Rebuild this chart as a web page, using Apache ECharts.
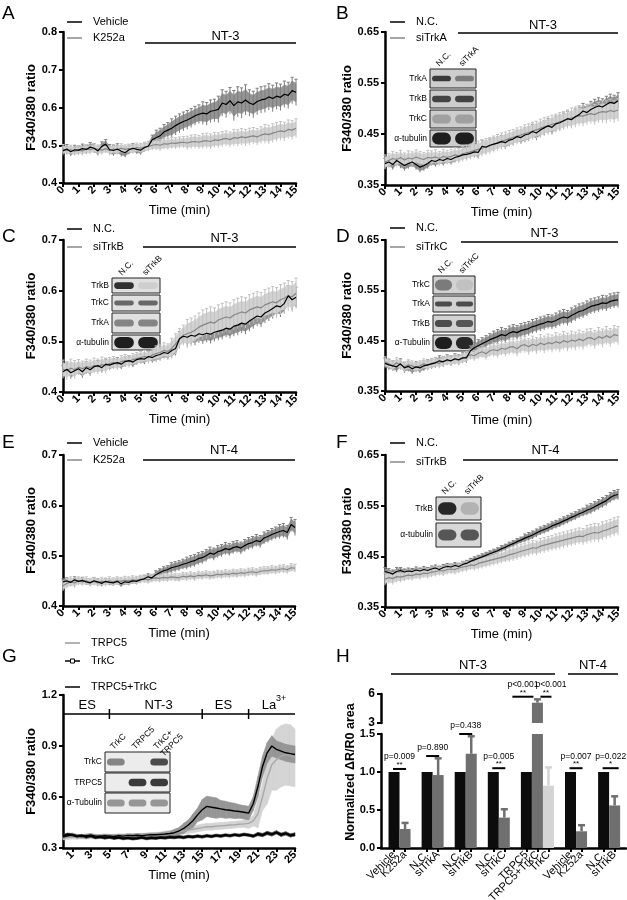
<!DOCTYPE html>
<html><head><meta charset="utf-8">
<script src="https://cdn.jsdelivr.net/npm/echarts@6/dist/echarts.min.js"></script>
<style>html,body{margin:0;padding:0;background:#fff}#c{width:627px;height:900px}</style>
</head><body><div id="c"></div>
<script>
// ================= DATA =================
// time sampling (min)
const stepAF = 0.25;
const stepG = 0.5;
const xTicks15 = [0,1,2,3,4,5,6,7,8,9,10,11,12,13,14,15];
const xTicksG = [1,3,5,7,9,11,13,15,17,19,21,23,25];
const yTicksA = [0.4,0.5,0.6,0.7,0.8];
const yTicksB = [0.35,0.45,0.55,0.65];
const yTicksC = [0.4,0.5,0.6,0.7];
const yTicksD = [0.35,0.45,0.55,0.65];
const yTicksE = [0.4,0.5,0.6,0.7];
const yTicksF = [0.35,0.45,0.55,0.65];
const yTicksG = [0.3,0.6,0.9,1.2];
const yTicksHlow = [0,0.5,1.0,1.5];
const yTicksHup = [3,6];

// Panel A (NT-3): Vehicle vs K252a
const A_vehicle = [0.485,
 0.490,0.483,0.488,0.487, 0.491,0.489,0.495,0.492, 0.485,0.497,0.503,0.488, 0.486,0.490,0.484,0.480,
 0.488,0.492,0.489,0.487, 0.494,0.498,0.515,0.520, 0.525,0.535,0.540,0.545, 0.552,0.558,0.563,0.567,
 0.572,0.578,0.582,0.585, 0.583,0.590,0.592,0.595, 0.612,0.608,0.618,0.605, 0.615,0.612,0.620,0.612,
 0.608,0.616,0.620,0.622, 0.628,0.624,0.630,0.627, 0.635,0.632,0.645,0.640];
const A_vehicle_sd = [0.012,0.012,0.012,0.014,0.012,0.012,0.02,0.025,0.025,0.03,0.035,0.04,0.035,0.035,0.035,0.035];
const A_k252a = [0.490,
 0.486,0.488,0.484,0.487, 0.485,0.490,0.488,0.492, 0.489,0.487,0.491,0.486, 0.490,0.488,0.492,0.489,
 0.491,0.490,0.494,0.492, 0.495,0.497,0.500,0.502, 0.500,0.504,0.503,0.506, 0.505,0.507,0.508,0.506,
 0.509,0.510,0.508,0.511, 0.512,0.510,0.514,0.513, 0.516,0.518,0.515,0.520, 0.519,0.522,0.520,0.523,
 0.525,0.522,0.527,0.530, 0.528,0.532,0.535,0.538, 0.536,0.542,0.540,0.545];
const A_k252a_sd = [0.012,0.012,0.012,0.012,0.012,0.013,0.015,0.015,0.018,0.02,0.02,0.022,0.022,0.025,0.025,0.025];

// Panel B (NT-3): N.C. vs siTrkA
const B_nc = [0.392,
 0.395,0.390,0.398,0.393, 0.388,0.392,0.395,0.390, 0.385,0.388,0.392,0.398, 0.396,0.400,0.398,0.402,
 0.400,0.404,0.406,0.409, 0.410,0.412,0.415,0.414, 0.426,0.424,0.428,0.430, 0.432,0.435,0.433,0.438,
 0.440,0.445,0.443,0.448, 0.450,0.455,0.452,0.458, 0.462,0.466,0.463,0.470, 0.472,0.476,0.480,0.478,
 0.484,0.488,0.495,0.492, 0.498,0.502,0.505,0.503, 0.508,0.512,0.510,0.515];
const B_nc_sd = [0.01,0.01,0.01,0.01,0.01,0.01,0.012,0.012,0.012,0.014,0.014,0.015,0.015,0.016,0.016,0.016];
const B_sitrka = [0.395,
 0.398,0.402,0.400,0.404, 0.399,0.403,0.401,0.405, 0.402,0.400,0.404,0.403, 0.405,0.402,0.406,0.404,
 0.406,0.409,0.407,0.411, 0.413,0.415,0.418,0.420, 0.422,0.425,0.427,0.430, 0.433,0.436,0.438,0.441,
 0.443,0.446,0.448,0.451, 0.453,0.456,0.458,0.461, 0.464,0.466,0.469,0.471, 0.474,0.476,0.479,0.481,
 0.483,0.486,0.485,0.488, 0.490,0.488,0.492,0.494, 0.493,0.496,0.494,0.497];
const B_sitrka_sd = [0.014,0.014,0.014,0.014,0.014,0.015,0.016,0.016,0.016,0.017,0.018,0.018,0.02,0.02,0.022,0.022];

// Panel C (NT-3): N.C. vs siTrkB
const C_nc = [0.440,
 0.445,0.438,0.442,0.446, 0.440,0.448,0.444,0.450, 0.452,0.448,0.455,0.453, 0.456,0.458,0.455,0.460,
 0.462,0.459,0.464,0.466, 0.465,0.470,0.468,0.472, 0.474,0.478,0.476,0.482, 0.486,0.505,0.510,0.508,
 0.512,0.510,0.515,0.513, 0.516,0.514,0.518,0.520, 0.522,0.526,0.524,0.530, 0.532,0.536,0.534,0.540,
 0.545,0.550,0.548,0.556, 0.560,0.565,0.570,0.568, 0.575,0.590,0.582,0.587];
const C_nc_sd = [0.012,0.012,0.01,0.01,0.01,0.01,0.012,0.014,0.018,0.018,0.018,0.02,0.02,0.02,0.02,0.02];
const C_sitrkb = [0.445,
 0.442,0.447,0.444,0.449, 0.446,0.450,0.448,0.452, 0.450,0.454,0.452,0.456, 0.458,0.455,0.460,0.462,
 0.460,0.464,0.466,0.468, 0.470,0.468,0.473,0.476, 0.478,0.482,0.480,0.486, 0.495,0.505,0.512,0.515,
 0.518,0.522,0.528,0.532, 0.535,0.538,0.536,0.542, 0.545,0.548,0.546,0.552, 0.555,0.558,0.556,0.562,
 0.565,0.568,0.566,0.572, 0.575,0.578,0.576,0.582, 0.585,0.590,0.588,0.595];
const C_sitrkb_sd = [0.018,0.015,0.015,0.012,0.012,0.012,0.015,0.02,0.028,0.03,0.03,0.03,0.03,0.03,0.03,0.03];

// Panel D (NT-3): N.C. vs siTrkC
const D_nc = [0.405,
 0.402,0.400,0.398,0.404, 0.396,0.399,0.394,0.398, 0.396,0.400,0.402,0.404, 0.406,0.410,0.408,0.412,
 0.410,0.414,0.412,0.416, 0.416,0.430,0.436,0.440, 0.444,0.448,0.452,0.455, 0.458,0.462,0.460,0.465,
 0.468,0.466,0.470,0.472, 0.474,0.478,0.480,0.483, 0.485,0.488,0.487,0.490, 0.494,0.497,0.495,0.500,
 0.504,0.508,0.510,0.514, 0.518,0.520,0.522,0.525, 0.524,0.528,0.530,0.531];
const D_nc_sd = [0.01,0.01,0.01,0.01,0.01,0.01,0.012,0.014,0.014,0.014,0.014,0.015,0.015,0.015,0.015,0.015];
const D_sitrkc = [0.408,
 0.404,0.400,0.406,0.402, 0.398,0.402,0.400,0.397, 0.400,0.404,0.401,0.405, 0.407,0.405,0.409,0.411,
 0.410,0.413,0.411,0.415, 0.418,0.422,0.420,0.425, 0.428,0.424,0.430,0.432, 0.430,0.435,0.433,0.437,
 0.438,0.434,0.440,0.442, 0.438,0.443,0.440,0.445, 0.442,0.446,0.444,0.448, 0.445,0.450,0.447,0.451,
 0.449,0.453,0.450,0.455, 0.456,0.452,0.458,0.455, 0.460,0.456,0.462,0.460];
const D_sitrkc_sd = [0.01,0.01,0.01,0.01,0.01,0.01,0.012,0.014,0.015,0.016,0.017,0.018,0.018,0.018,0.018,0.018];

// Panel E (NT-4): Vehicle vs K252a
const E_vehicle = [0.448,
 0.450,0.447,0.452,0.449, 0.451,0.448,0.446,0.450, 0.448,0.445,0.449,0.447, 0.446,0.449,0.444,0.448,
 0.447,0.450,0.449,0.452, 0.454,0.458,0.456,0.462, 0.466,0.470,0.472,0.476, 0.478,0.480,0.483,0.485,
 0.488,0.490,0.494,0.496, 0.500,0.505,0.503,0.508, 0.510,0.514,0.512,0.516, 0.518,0.515,0.520,0.524,
 0.526,0.530,0.528,0.535, 0.538,0.542,0.545,0.548, 0.550,0.546,0.562,0.556];
const E_vehicle_sd = [0.006,0.006,0.006,0.006,0.006,0.006,0.008,0.01,0.012,0.012,0.012,0.012,0.012,0.012,0.014,0.016];
const E_k252a = [0.440,
 0.445,0.448,0.446,0.450, 0.448,0.450,0.447,0.449, 0.446,0.449,0.447,0.450, 0.448,0.450,0.449,0.451,
 0.450,0.452,0.451,0.453, 0.454,0.452,0.455,0.456, 0.455,0.457,0.456,0.458, 0.457,0.456,0.459,0.458,
 0.460,0.458,0.461,0.460, 0.462,0.460,0.461,0.463, 0.462,0.464,0.463,0.465, 0.464,0.466,0.465,0.467,
 0.468,0.466,0.469,0.470, 0.470,0.472,0.471,0.473, 0.474,0.472,0.476,0.475];
const E_k252a_sd = [0.01,0.008,0.008,0.008,0.008,0.008,0.008,0.008,0.008,0.008,0.008,0.008,0.008,0.008,0.008,0.008];

// Panel F (NT-4): N.C. vs siTrkB
const F_nc = [0.420,
 0.418,0.415,0.420,0.422, 0.419,0.421,0.420,0.423, 0.421,0.424,0.422,0.425, 0.427,0.424,0.428,0.430,
 0.429,0.432,0.430,0.434, 0.436,0.440,0.443,0.446, 0.449,0.452,0.455,0.458, 0.461,0.465,0.468,0.472,
 0.475,0.479,0.482,0.486, 0.489,0.492,0.496,0.500, 0.503,0.506,0.510,0.513, 0.516,0.520,0.523,0.527,
 0.530,0.534,0.537,0.541, 0.544,0.548,0.552,0.556, 0.560,0.566,0.570,0.572];
const F_nc_sd = [0.008,0.006,0.006,0.006,0.006,0.006,0.006,0.006,0.006,0.008,0.008,0.008,0.008,0.01,0.01,0.01];
const F_sitrkb = [0.405,
 0.408,0.406,0.410,0.409, 0.411,0.413,0.412,0.415, 0.414,0.417,0.416,0.419, 0.420,0.422,0.421,0.424,
 0.425,0.424,0.427,0.429, 0.430,0.433,0.432,0.436, 0.438,0.440,0.442,0.444, 0.446,0.448,0.450,0.453,
 0.455,0.457,0.460,0.462, 0.464,0.467,0.466,0.470, 0.472,0.474,0.476,0.478, 0.480,0.482,0.484,0.486,
 0.488,0.490,0.489,0.493, 0.495,0.497,0.496,0.500, 0.502,0.505,0.508,0.510];
const F_sitrkb_sd = [0.012,0.01,0.01,0.01,0.01,0.01,0.012,0.012,0.014,0.014,0.015,0.016,0.016,0.018,0.018,0.018];

// Panel G (0.5-min samples, 0..25 min)
const G_trpc5 = [
 0.360,0.362,0.365,0.363,0.366,0.364,0.367,0.365,0.366,0.368,0.367,0.369,0.368,0.370,0.371,0.372,0.373,0.375,0.376,0.378,0.380,
 0.382,0.385,0.388,0.392,0.396,0.400,0.405,0.410,0.415,0.420,0.425,0.425,0.428,0.430,0.432,0.435,0.437,0.440,0.442,0.445,
 0.460,0.500,0.600,0.710,0.790,0.820,0.840,0.850,0.845,0.830];
const G_trpc5_sd = [0.012,0.012,0.012,0.012,0.012,0.012,0.012,0.012,0.012,0.012,0.012,0.015,0.015,0.018,0.02,0.02,0.02,0.02,0.02,0.02,0.03,0.08,0.15,0.18,0.18,0.17];
const G_trkc = [
 0.372,0.380,0.376,0.368,0.372,0.365,0.370,0.362,0.366,0.360,0.364,0.358,0.362,0.356,0.360,0.355,0.358,0.362,0.356,0.360,0.358,
 0.362,0.360,0.364,0.362,0.366,0.362,0.368,0.365,0.370,0.366,0.372,0.368,0.374,0.370,0.376,0.372,0.378,0.374,0.380,0.376,
 0.370,0.382,0.376,0.388,0.380,0.392,0.378,0.386,0.374,0.380];
const G_trkc_sd = [0.008,0.008,0.008,0.008,0.008,0.008,0.008,0.008,0.008,0.008,0.008,0.008,0.008,0.008,0.008,0.008,0.008,0.008,0.008,0.008,0.008,0.01,0.01,0.01,0.01,0.01];
const G_trpc5trkc = [
 0.365,0.372,0.378,0.370,0.368,0.372,0.375,0.370,0.368,0.372,0.370,0.368,0.372,0.370,0.374,0.372,0.375,0.373,0.376,0.378,0.378,
 0.380,0.382,0.385,0.390,0.400,0.415,0.435,0.460,0.495,0.525,0.545,0.540,0.535,0.530,0.525,0.522,0.518,0.515,0.510,0.505,
 0.560,0.660,0.780,0.860,0.900,0.880,0.870,0.860,0.855,0.850];
const G_trpc5trkc_sd = [0.01,0.01,0.01,0.01,0.01,0.01,0.01,0.01,0.01,0.01,0.01,0.012,0.02,0.03,0.04,0.06,0.06,0.05,0.045,0.04,0.04,0.06,0.06,0.05,0.05,0.05];

// Panel H: normalized ΔR/R0 area ('' = gap between groups)
const H_labels = ['Vehicle','K252a','','N.C.','siTrkA','','N.C.','siTrkB','','N.C.','siTrkC','','TRPC5','TRPC5+TrkC','TrkC','','Vehicle','K252a','','N.C.','siTrkB'];
const H_values = [1.0,0.25, 1.0,0.96, 1.0,1.24, 1.0,0.40, 1.0,5.10,0.82, 1.0,0.22, 1.0,0.56];
const H_errors = [0,0.08, 0,0.22, 0,0.23, 0,0.11, 0,0.35,0.24, 0,0.08, 0,0.12];
const H_pvalues = ['p=0.009','p=0.890','p=0.438','p=0.005','p<0.001','p<0.001','p=0.007','p=0.022'];
const H_stars = ['**','','','**','**','**','**','*'];

// ================= STYLE / LAYOUT =================
const FONT = '"Liberation Sans", Arial, Helvetica, sans-serif';
const chart = echarts.init(document.getElementById('c'), null, {renderer:'canvas', width:627, height:900});

const grids = [
  {left:63, top:32, width:233, height:151},
  {left:385, top:32, width:233, height:153},
  {left:63, top:240, width:233, height:152},
  {left:385, top:240, width:233, height:151},
  {left:63, top:455, width:232, height:151},
  {left:385, top:455, width:233, height:152},
  {left:63, top:695, width:232, height:153},
  {left:381, top:734, width:245, height:114},
  {left:381, top:694, width:245, height:29}
].map(g => Object.assign({outerBoundsMode:'none', containLabel:false, show:false}, g));

function yAx(gi, lo, hi, ticks, dec, gap, name) {
  return {gridIndex:gi, type:'value', min:lo, max:hi, scale:false,
    axisLine:{show:true, onZero:false, lineStyle:{color:'#000', width:2.5}},
    axisTick:{show:true, length:4, inside:false, lineStyle:{color:'#000', width:2}, customValues:ticks},
    axisLabel:{customValues:ticks, formatter:v => Number(v).toFixed(dec), color:'#000', fontWeight:'bold', fontSize:11, fontFamily:FONT, margin:6, showMinLabel:true, showMaxLabel:true},
    splitLine:{show:false},
    name:name || '', nameLocation:'middle', nameGap:gap,
    nameTextStyle:{color:'#000', fontWeight:'bold', fontSize:13, fontFamily:FONT}};
}
function xAx(gi, hi, ticks, gap) {
  return {gridIndex:gi, type:'value', min:0, max:hi, interval:1,
    axisLine:{show:true, onZero:false, lineStyle:{color:'#000', width:2.5}},
    axisTick:{show:true, length:4, lineStyle:{color:'#000', width:2}, customValues:ticks},
    axisLabel:{customValues:ticks, rotate:45, color:'#000', fontWeight:'bold', fontSize:11, fontFamily:FONT, margin:5, showMinLabel:true, showMaxLabel:true, hideOverlap:false, formatter:v => String(v)},
    splitLine:{show:false},
    name:'Time (min)', nameLocation:'middle', nameGap:gap,
    nameTextStyle:{color:'#000', fontSize:13, fontFamily:FONT}};
}

const xAxes = [
  xAx(0, 15, xTicks15, 20), xAx(1, 15, xTicks15, 15), xAx(2, 15, xTicks15, 20),
  xAx(3, 15, xTicks15, 23), xAx(4, 15, xTicks15, 18), xAx(5, 15, xTicks15, 13),
  xAx(6, 25, xTicksG, 19)
];
const yAxes = [
  yAx(0, 0.4, 0.8, yTicksA, 1, 21, 'F340/380 ratio'),
  yAx(1, 0.35, 0.65, yTicksB, 2, 29, 'F340/380 ratio'),
  yAx(2, 0.4, 0.7, yTicksC, 1, 21, 'F340/380 ratio'),
  yAx(3, 0.35, 0.65, yTicksD, 2, 29, 'F340/380 ratio'),
  yAx(4, 0.4, 0.7, yTicksE, 1, 21, 'F340/380 ratio'),
  yAx(5, 0.35, 0.65, yTicksF, 2, 29, 'F340/380 ratio'),
  yAx(6, 0.3, 1.2, yTicksG, 1, 21, 'F340/380 ratio')
];

// H axes
const barPos = [];
H_labels.forEach((c, i) => { if (c !== '') barPos.push(i); });
const hMin = -1.18, hMax = 21.03;
// empty sentinel labels at the axis ends so that no real label is dropped by min/max overlap logic
const hLabelVals = [hMin].concat(barPos, [hMax]);
xAxes.push({gridIndex:7, type:'value', min:hMin, max:hMax,
  axisLine:{show:true, onZero:false, lineStyle:{color:'#000', width:2.5}},
  axisTick:{show:true, length:4, lineStyle:{color:'#000', width:2}, customValues:barPos},
  axisLabel:{customValues:hLabelVals, rotate:45, color:'#000', fontSize:11, fontFamily:FONT, margin:5, showMinLabel:false, showMaxLabel:false, hideOverlap:false,
    formatter:v => (Math.abs(v - Math.round(v)) < 1e-6 ? (H_labels[Math.round(v)] || '') : '')},
  splitLine:{show:false}});
xAxes.push({gridIndex:8, type:'value', min:hMin, max:hMax, show:false, splitLine:{show:false}});
yAxes.push(yAx(7, 0, 1.5, yTicksHlow, 1, 0, ''));
yAxes.push(yAx(8, 3, 6, yTicksHup, 0, 0, ''));
yAxes[8].axisLabel.fontSize = 12;

const series = [];
function bandSeries(gi, vals, sds, step, fill, whisk, factor, z) {
  const data = vals.map((v, i) => { const t = i * step; return [t, v, sds[Math.min(Math.floor(t + 1e-6), sds.length - 1)]]; });
  return {type:'custom', xAxisIndex:gi, yAxisIndex:gi, z, silent:true, animation:false,
    encode:{x:0, y:1}, data,
    renderItem(params, api) {
      const i = params.dataIndex, d = data[i], ch = [];
      if (i < data.length - 1) {
        const n = data[i + 1];
        const a = api.coord([d[0], d[1] + d[2] * factor]), b = api.coord([n[0], n[1] + n[2] * factor]);
        const c = api.coord([n[0], n[1] - n[2] * factor]), e = api.coord([d[0], d[1] - d[2] * factor]);
        ch.push({type:'polygon', shape:{points:[a, b, c, e]}, style:{fill, stroke:fill, lineWidth:0.6}});
      }
      if (whisk) {
        const tp = api.coord([d[0], d[1] + d[2]]), bt = api.coord([d[0], d[1] - d[2]]);
        ch.push({type:'line', shape:{x1:tp[0], y1:tp[1], x2:bt[0], y2:bt[1]}, style:{stroke:whisk, lineWidth:1}});
        ch.push({type:'line', shape:{x1:tp[0]-1.6, y1:tp[1], x2:tp[0]+1.6, y2:tp[1]}, style:{stroke:whisk, lineWidth:1}});
      }
      return {type:'group', children:ch};
    }};
}
function lineSeries(gi, vals, step, color, width, z) {
  return {type:'line', xAxisIndex:gi, yAxisIndex:gi, z, silent:true, animation:false,
    data: vals.map((v, i) => [i * step, v]),
    showSymbol:false, symbol:'none',
    lineStyle:{color, width}};
}
function addPair(gi, s1, s1sd, s2, s2sd) {
  series.push(bandSeries(gi, s1, s1sd, stepAF, '#959595', '#7d7d7d', 0.7, 1));
  series.push(bandSeries(gi, s2, s2sd, stepAF, '#d2d2d2', '#c2c2c2', 0.7, 2));
  series.push(lineSeries(gi, s2, stepAF, '#858585', 1.2, 3));
  series.push(lineSeries(gi, s1, stepAF, '#000', 1.2, 4));
}
addPair(0, A_vehicle, A_vehicle_sd, A_k252a, A_k252a_sd);
addPair(1, B_nc, B_nc_sd, B_sitrka, B_sitrka_sd);
addPair(2, C_nc, C_nc_sd, C_sitrkb, C_sitrkb_sd);
addPair(3, D_nc, D_nc_sd, D_sitrkc, D_sitrkc_sd);
addPair(4, E_vehicle, E_vehicle_sd, E_k252a, E_k252a_sd);
addPair(5, F_nc, F_nc_sd, F_sitrkb, F_sitrkb_sd);
// G
series.push(bandSeries(6, G_trpc5, G_trpc5_sd, stepG, '#d4d4d4', null, 1, 1));
series.push(bandSeries(6, G_trpc5trkc, G_trpc5trkc_sd, stepG, '#969696', null, 1, 2));
series.push(bandSeries(6, G_trkc, G_trkc_sd, stepG, '#3a3a3a', null, 1, 2));
series.push(lineSeries(6, G_trpc5, stepG, '#a8a8a8', 1.4, 3));
series.push(lineSeries(6, G_trkc, stepG, '#000', 2, 4));
series.push(lineSeries(6, G_trpc5trkc, stepG, '#000', 1.4, 5));

// H bars
const TONE = {k:'#0c0c0c', g:'#6f6f6f', l:'#d4d4d4'};
const H_tone = ['k','g','k','g','k','g','k','g','k','g','l','k','g','k','g'];
const barData = H_values.map((v, i) => ({value:[barPos[i], v], itemStyle:{color:TONE[H_tone[i]]}}));
series.push({type:'bar', xAxisIndex:7, yAxisIndex:7, data:barData, barWidth:11, clip:true, silent:true, animation:false});
series.push({type:'bar', xAxisIndex:8, yAxisIndex:8, data:barData, barWidth:11, clip:true, silent:true, animation:false});
function errSeries(gi, lo, hi) {
  return {type:'custom', xAxisIndex:gi, yAxisIndex:gi, z:5, silent:true, animation:false,
    encode:{x:0, y:1}, data:H_values.map((v, i) => [barPos[i], v]),
    renderItem(params, api) {
      const i = params.dataIndex, v = H_values[i], e = H_errors[i];
      if (e <= 0 || v > hi || v + e < lo) return null;
      const p0 = api.coord([barPos[i], Math.max(v, lo)]), p1 = api.coord([barPos[i], v + e]);
      const col = TONE[H_tone[i]];
      return {type:'group', children:[
        {type:'line', shape:{x1:p0[0], y1:p0[1], x2:p1[0], y2:p1[1]}, style:{stroke:col, lineWidth:2.5}},
        {type:'line', shape:{x1:p1[0]-3.5, y1:p1[1], x2:p1[0]+3.5, y2:p1[1]}, style:{stroke:col, lineWidth:2.5}}]};
    }};
}
series.push(errSeries(7, 0, 1.5));
series.push(errSeries(8, 3, 6));

chart.setOption({animation:false, backgroundColor:'#fff', grid:grids, xAxis:xAxes, yAxis:yAxes, series});

// ================= DECORATIONS =================
const G = [];
function txt(x, y, text, size, opts) {
  return Object.assign({type:'text', x, y, silent:true, style:Object.assign({text, fill:'#000', font:`${size}px ${FONT}`, align:'left', verticalAlign:'middle'}, (opts && opts.style) || {})}, (opts && opts.el) || {});
}
function hline(x1, x2, y, w, col) {
  return {type:'line', silent:true, shape:{x1, y1:y, x2, y2:y}, style:{stroke:col || '#000', lineWidth:w || 1.5}};
}
// panel letters
[['A',2,4],['B',336,4],['C',2,227],['D',336,227],['E',2,433],['F',336,433],['G',2,647],['H',336,647]].forEach(l => {
  G.push(txt(l[1], l[2], l[0], 19, {style:{verticalAlign:'top'}}));
});
// legends
function legend(x, y, text, col, sq) {
  G.push(hline(x, x + 15, y, 1.5, col));
  if (sq) G.push({type:'rect', silent:true, shape:{x:x + 5.5, y:y - 2, width:4, height:4}, style:{fill:'#fff', stroke:'#000', lineWidth:1}});
  G.push(txt(x + 26, y, text, 11));
}
legend(67, 22, 'Vehicle', '#000'); legend(67, 38, 'K252a', '#888');
legend(390, 22, 'N.C.', '#000'); legend(390, 38, 'siTrkA', '#888');
legend(67, 229, 'N.C.', '#000'); legend(67, 247, 'siTrkB', '#888');
legend(390, 228, 'N.C.', '#000'); legend(390, 247, 'siTrkC', '#888');
legend(67, 443, 'Vehicle', '#000'); legend(67, 460, 'K252a', '#888');
legend(390, 443, 'N.C.', '#000'); legend(390, 462, 'siTrkB', '#888');
legend(65, 643, 'TRPC5', '#999'); legend(65, 661, 'TrkC', '#000', true); legend(65, 687, 'TRPC5+TrkC', '#000');
// treatment bars
function header(x1, x2, y, label, ty) {
  G.push(hline(x1, x2, y, 1.5));
  G.push(txt((x1 + x2) / 2 + 5, ty, label, 13, {style:{align:'center'}}));
}
header(145, 296, 43, 'NT-3', 36);
header(458, 618, 33, 'NT-3', 25);
header(143, 296, 247, 'NT-3', 238);
header(461, 618, 242, 'NT-3', 233);
header(143, 295, 460, 'NT-4', 450);
header(463, 618, 460, 'NT-4', 450);
G.push(hline(391, 555, 674, 1.5)); G.push(txt(473, 665, 'NT-3', 13, {style:{align:'center'}}));
G.push(hline(568, 618, 674, 1.5)); G.push(txt(593, 665, 'NT-4', 13, {style:{align:'center'}}));
// G stimulation bar
const gx = t => chart.convertToPixel({xAxisIndex:6, yAxisIndex:6}, [t, 1])[0];
G.push(hline(63, 295, 714, 1.5));
[5, 15, 20].forEach(t => G.push({type:'line', silent:true, shape:{x1:gx(t), y1:709, x2:gx(t), y2:719}, style:{stroke:'#000', lineWidth:1.5}}));
G.push(txt(gx(2.6), 705, 'ES', 13, {style:{align:'center'}}));
G.push(txt(gx(10.3), 705, 'NT-3', 13, {style:{align:'center'}}));
G.push(txt(gx(17.3), 705, 'ES', 13, {style:{align:'center'}}));
G.push(txt(gx(22.2), 705, 'La', 13, {style:{align:'center'}}));
G.push(txt(gx(22.2) + 7, 699, '3+', 9));
// H y-axis name
G.push(txt(351, 772, 'Normalized ΔR/R0 area', 12.5, {style:{align:'center', font:`bold 12.5px ${FONT}`}, el:{rotation:Math.PI / 2}}));
// significance
const hp = (ax, x, y) => chart.convertToPixel({xAxisIndex:ax, yAxisIndex:ax}, [x, y]);
const sig = [
  {a:0, b:1, lvl:1.04, ax:7, o1:-1, o2:1},
  {a:3, b:4, lvl:1.21, ax:7, o1:-1, o2:1},
  {a:6, b:7, lvl:1.5, ax:7, o1:-1, o2:1},
  {a:9, b:10, lvl:1.05, ax:7, o1:-1, o2:1},
  {a:12, b:13, lvl:5.72, ax:8, o1:-14, o2:-4},
  {a:13, b:14, lvl:5.72, ax:8, o1:3, o2:3},
  {a:16, b:17, lvl:1.05, ax:7, o1:-1, o2:1},
  {a:19, b:20, lvl:1.05, ax:7, o1:-1, o2:4}
];
sig.forEach((s, k) => {
  const pa = hp(s.ax, s.a, s.lvl), pb = hp(s.ax, s.b, s.lvl);
  const x1 = pa[0] + s.o1, x2 = pb[0] + s.o2, y = pa[1], mid = (x1 + x2) / 2;
  G.push(hline(x1, x2, y, 2));
  if (H_stars[k]) {
    G.push(txt(mid, y - 4, H_stars[k], 8, {style:{align:'center'}}));
    G.push(txt(mid + (k === 5 ? 5 : 0), y - 12, H_pvalues[k], 8.5, {style:{align:'center'}}));
  } else {
    G.push(txt(mid, y - 8, H_pvalues[k], 8.5, {style:{align:'center'}}));
  }
});
// western blot insets
function blot(x, w, lanes, rows, cols, colY, bg) {
  rows.forEach(r => {
    G.push({type:'rect', silent:true, shape:{x, y:r.y0, width:w, height:r.y1 - r.y0}, style:{fill:bg, stroke:'#222', lineWidth:1}});
    r.b.forEach((k, j) => {
      if (k <= 0) return;
      const cx = x + w * (j + 0.5) / lanes, bw = w / lanes * 0.82, h = (r.y1 - r.y0) * r.h;
      const g = Math.round(215 - 185 * k);
      G.push({type:'rect', silent:true, shape:{x:cx - bw / 2, y:(r.y0 + r.y1) / 2 - h / 2, width:bw, height:h, r:h / 2}, style:{fill:`rgb(${g},${g},${g})`}});
    });
    G.push(txt(x - 3, (r.y0 + r.y1) / 2, r.label, 8.5, {style:{align:'right'}}));
  });
  cols.forEach((t, j) => {
    const cx = x + w * (j + 0.5) / lanes;
    G.push(txt(cx - 4, colY, t, 8.5, {el:{rotation:Math.PI / 4}}));
  });
}
blot(430, 46, 2, [
  {label:'TrkA', y0:69, y1:88, b:[0.85, 0.5], h:0.3},
  {label:'TrkB', y0:90, y1:108, b:[0.8, 0.8], h:0.35},
  {label:'TrkC', y0:110, y1:128, b:[0.3, 0.3], h:0.5},
  {label:'α-tubulin', y0:130, y1:147, b:[1, 1], h:0.7}], ['N.C.', 'siTrkA'], 65, '#cdcdcd');
blot(112, 48, 2, [
  {label:'TrkB', y0:278, y1:293, b:[0.9, 0.05], h:0.45},
  {label:'TrkC', y0:295, y1:311, b:[0.6, 0.6], h:0.3},
  {label:'TrkA', y0:313, y1:333, b:[0.45, 0.45], h:0.35},
  {label:'α-tubulin', y0:335, y1:350, b:[1, 1], h:0.75}], ['N.C.', 'siTrkB'], 274, '#e0e0e0');
blot(433, 42, 2, [
  {label:'TrkC', y0:276, y1:294, b:[0.5, 0.12], h:0.6},
  {label:'TrkA', y0:296, y1:312, b:[0.75, 0.75], h:0.3},
  {label:'TrkB', y0:315, y1:332, b:[0.75, 0.7], h:0.4},
  {label:'α-Tubulin', y0:335, y1:351, b:[1, 0.95], h:0.75}], ['N.C.', 'siTrkC'], 272, '#d2d2d2');
blot(436, 45, 2, [
  {label:'TrkB', y0:497, y1:520, b:[0.95, 0.2], h:0.55},
  {label:'α-tubulin', y0:523, y1:547, b:[0.7, 0.7], h:0.45}], ['N.C.', 'siTrkB'], 493, '#d8d8d8');
blot(105, 65, 3, [
  {label:'TrkC', y0:752, y1:772, b:[0.45, 0, 0.75], h:0.35},
  {label:'TRPC5', y0:773, y1:792, b:[0, 0.85, 0.85], h:0.4},
  {label:'α-Tubulin', y0:793, y1:813, b:[0.35, 0.35, 0.35], h:0.35}], ['TrkC', 'TRPC5', 'TrkC+'], 748, '#ececec');
G.push(txt(105 + 65 * 2.5 / 3 + 3, 755, 'TRPC5', 8.5, {el:{rotation:Math.PI / 4}}));

chart.setOption({graphic:{elements:G}});
</script></body></html>
